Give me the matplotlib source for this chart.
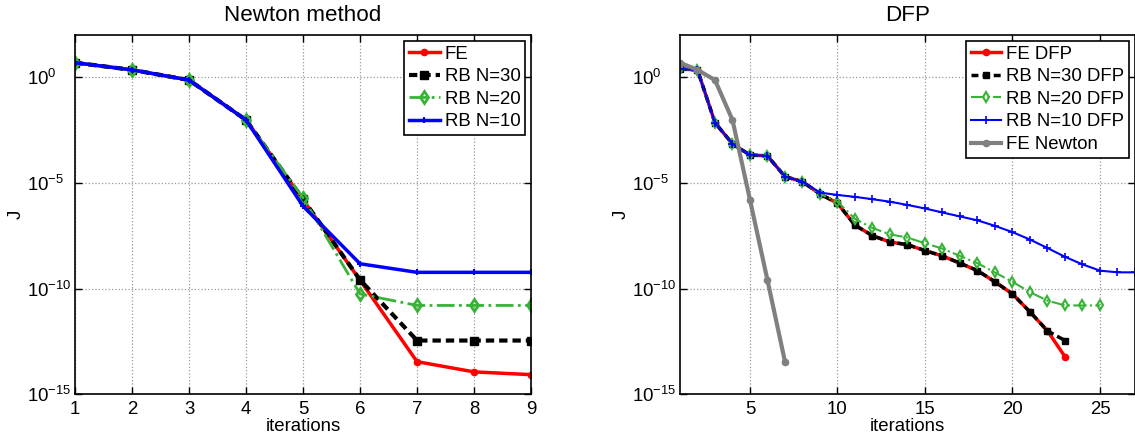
import numpy as np
import matplotlib
matplotlib.use('Agg')
import matplotlib.pyplot as plt

plt.rcParams['font.family'] = ['Liberation Sans', 'DejaVu Sans']
plt.rcParams['mathtext.fontset'] = 'custom'
plt.rcParams['mathtext.rm'] = 'Liberation Sans'
plt.rcParams['mathtext.it'] = 'Liberation Sans:italic'
plt.rcParams['font.size'] = 13.4

# Newton method: cost J per iteration
it_newton = np.arange(1, 10)
J_fe = [4.9, 2.24, 0.74, 9.5e-3, 1.6e-6, 2.5e-10, 3.5e-14, 1.15e-14, 8.5e-15]
J_rb30 = [4.9, 2.24, 0.74, 9.5e-3, 1.7e-6, 2.6e-10, 3.5e-13, 3.5e-13, 3.5e-13]
J_rb20 = [4.9, 2.24, 0.74, 9.5e-3, 2.0e-6, 5.6e-11, 1.6e-11, 1.6e-11, 1.6e-11]
J_rb10 = [4.9, 2.24, 0.74, 9.5e-3, 8.0e-7, 1.5e-9, 5.9e-10, 5.9e-10, 5.9e-10]

# DFP quasi-Newton runs
J_fe_dfp = [2.45, 2.24, 7.1e-3, 7.1e-4, 2.1e-4, 1.9e-4, 2.0e-5, 1.15e-5, 3.0e-6,
            1.1e-6, 1.0e-7, 3.2e-8, 1.6e-8, 1.2e-8, 6.3e-9, 3.5e-9, 1.6e-9,
            7.1e-10, 2.1e-10, 5.6e-11, 7.9e-12, 1.0e-12, 6.0e-14]
J_rb30_dfp = [2.45, 2.24, 7.1e-3, 7.1e-4, 2.1e-4, 1.9e-4, 2.0e-5, 1.15e-5, 3.0e-6,
              1.1e-6, 1.0e-7, 3.2e-8, 1.6e-8, 1.2e-8, 6.3e-9, 3.5e-9, 1.6e-9,
              7.1e-10, 2.1e-10, 5.6e-11, 7.9e-12, 1.0e-12, 3.5e-13]
J_rb20_dfp = [2.45, 2.24, 7.1e-3, 7.1e-4, 2.1e-4, 1.9e-4, 2.0e-5, 1.15e-5, 3.0e-6,
              1.3e-6, 2.0e-7, 7.4e-8, 3.7e-8, 2.6e-8, 1.4e-8, 7.8e-9, 3.5e-9,
              1.6e-9, 5.8e-10, 2.1e-10, 6.8e-11, 2.7e-11, 1.6e-11, 1.6e-11, 1.6e-11]
J_rb10_dfp = [2.45, 2.24, 7.1e-3, 7.1e-4, 2.1e-4, 1.9e-4, 2.0e-5, 1.15e-5, 3.5e-6,
              2.7e-6, 2.2e-6, 1.7e-6, 1.3e-6, 9.1e-7, 6.2e-7, 4.0e-7, 2.6e-7,
              1.7e-7, 9.3e-8, 4.7e-8, 2.1e-8, 8.3e-9, 3.2e-9, 1.4e-9, 7.1e-10,
              5.9e-10, 5.9e-10]
J_fe_newton = J_fe[:7]

red = (1, 0, 0)
green = (0.22, 0.7, 0.22)
blue = (0, 0, 1)
gray = (0.5, 0.5, 0.5)

fig = plt.figure(figsize=(11.35, 4.41), dpi=100)
ax1 = fig.add_axes([0.0661, 0.1059, 0.4018, 0.8147])
ax2 = fig.add_axes([0.5991, 0.1059, 0.4009, 0.8147])


def its(y):
    return np.arange(1, len(y) + 1)


# left: Newton
ax1.plot(it_newton, J_fe, color=red, lw=2.5, marker='.', ms=9, label='FE')
ax1.plot(it_newton, J_rb30, color='k', lw=3, dashes=(2, 1.2), marker='s', ms=6,
         label='RB N=30')
ax1.plot(it_newton, J_rb20, color=green, lw=2, ls='-.', marker='d', ms=6.5,
         mfc='none', mew=2, label='RB N=20')
ax1.plot(it_newton, J_rb10, color=blue, lw=2.5, marker='+', ms=4, mew=1.5,
         label='RB N=10')

# right: DFP
ax2.plot(its(J_fe_dfp), J_fe_dfp, color=red, lw=2.5, marker='.', ms=9, label='FE DFP')
ax2.plot(its(J_rb30_dfp), J_rb30_dfp, color='k', lw=2.5, dashes=(2, 1.2),
         marker='s', ms=5, label='RB N=30 DFP')
ax2.plot(its(J_rb20_dfp), J_rb20_dfp, color=green, lw=1.5, ls='-.', marker='d',
         ms=5.5, mfc='none', mew=1.5, label='RB N=20 DFP')
ax2.plot(its(J_rb10_dfp), J_rb10_dfp, color=blue, lw=1.5, marker='+', ms=6,
         mew=1.2, label='RB N=10 DFP')
ax2.plot(its(J_fe_newton), J_fe_newton, color=gray, lw=3, marker='.', ms=9,
         label='FE Newton')

for ax in (ax1, ax2):
    ax.set_yscale('log')
    ax.set_ylim(1e-15, 1e2)
    ax.set_yticks([1e-15, 1e-10, 1e-5, 1e0])
    ax.yaxis.set_minor_locator(matplotlib.ticker.NullLocator())
    ax.grid(True, ls=':', color='0.6', lw=0.9)
    ax.tick_params(direction='in', top=True, right=True, length=5, width=1,
                   labelsize=13.4)
    ax.tick_params(axis='x', pad=5)
    # exponent labels start at a common left edge
    ax.tick_params(axis='y', pad=34.5)
    for lab in ax.get_yticklabels():
        lab.set_horizontalalignment('left')
    for s in ax.spines.values():
        s.set_linewidth(1.2)
    ax.set_xlabel('iterations', labelpad=0)
    ax.set_ylabel('J')
    ax.yaxis.set_label_coords(-0.11, 0.5)
    leg = ax.legend(loc='upper right', fancybox=False, edgecolor='k',
                    framealpha=1, handlelength=1.65, handletextpad=0.27,
                    borderpad=0.25, labelspacing=0.3, borderaxespad=0.32)
    leg.get_frame().set_linewidth(1.2)

ax1.set_xlim(1, 9)
ax1.set_xticks(range(1, 10))
ax1.set_title('Newton method', pad=10)
ax2.set_xlim(1, 27)
ax2.set_xticks([5, 10, 15, 20, 25])
ax2.set_title('DFP', pad=10)

fig.savefig('out.png', dpi=100)
